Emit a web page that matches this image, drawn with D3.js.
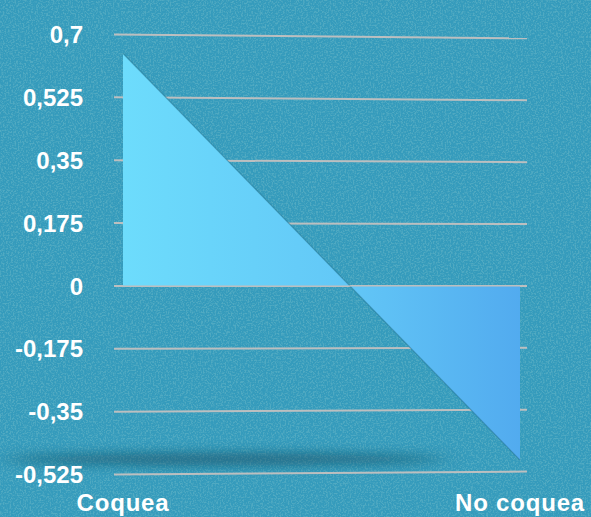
<!DOCTYPE html>
<html lang="en">
  <head>
    <meta charset="UTF-8" />
    <script src="https://d3js.org/d3.v7.min.js"></script>
    <title>Coquea</title>
    <style>
      body { margin: 0; background: #3394b3; }
      svg { display: block; }
      .tick-label, .cat-label {
        fill: #fff;
        font-family: "Liberation Sans", Arial, sans-serif;
        font-weight: bold;
      }
    </style>
  </head>
  <body>
    <svg id="chart" width="591" height="517"></svg>
    <script>
      // data
      const categories = ["Coquea", "No coquea"];
      const values = [0.647, -0.485];
      const tickValues = [0.7, 0.525, 0.35, 0.175, 0, -0.175, -0.35, -0.525];
      const tickLabels = ["0,7", "0,525", "0,35", "0,175", "0", "-0,175", "-0,35", "-0,525"];

      const W = 591, H = 517;
      const svg = d3.select("#chart");
      const defs = svg.append("defs");

      // grainy background
      const noise = defs.append("filter").attr("id", "noise")
        .attr("x", 0).attr("y", 0).attr("width", "100%").attr("height", "100%");
      noise.append("feTurbulence").attr("type", "fractalNoise")
        .attr("baseFrequency", 0.6).attr("numOctaves", 2).attr("seed", 4);
      noise.append("feColorMatrix").attr("type", "matrix")
        .attr("values", "0 0 0 0 0.08  0 0 0 0 0.4  0 0 0 0 0.54  4.5 0 0 0 -2.05");

      const blur = defs.append("filter").attr("id", "blur")
        .attr("x", "-30%").attr("y", "-300%").attr("width", "160%").attr("height", "700%");
      blur.append("feGaussianBlur").attr("stdDeviation", "14 6");

      const grad = defs.append("linearGradient").attr("id", "areaGrad")
        .attr("x1", "0%").attr("x2", "100%").attr("y1", "0%").attr("y2", "0%");
      grad.append("stop").attr("offset", "0%").attr("stop-color", "#6ddcfc");
      grad.append("stop").attr("offset", "55%").attr("stop-color", "#63c8f7");
      grad.append("stop").attr("offset", "100%").attr("stop-color", "#52abef");

      svg.append("rect").attr("width", W).attr("height", H).attr("fill", "#359bbc");
      svg.append("rect").attr("width", W).attr("height", H).attr("filter", "url(#noise)");

      const x = d3.scalePoint().domain(categories).range([123, 520]);
      const y = d3.scaleLinear().domain([-0.525, 0.7]).range([474.5, 34.5]);
      const gridLeft = 114, gridRight = 527, tilt = 5.5;

      // floor shadow
      svg.append("ellipse")
        .attr("cx", 225).attr("cy", y(-0.485) - 1)
        .attr("rx", 220).attr("ry", 6)
        .attr("fill", "#0b3c50").attr("opacity", 0.55)
        .attr("filter", "url(#blur)");

      // gridlines (slight perspective)
      svg.append("g").selectAll("line")
        .data(tickValues)
        .join("line")
        .attr("x1", gridLeft).attr("x2", gridRight)
        .attr("y1", d => y(d))
        .attr("y2", d => y(d) + tilt * d)
        .attr("stroke", "#bcbfc0")
        .attr("stroke-width", 2);

      // area
      const pts = categories.map((c, i) => ({ c, v: values[i] }));
      const area = d3.area()
        .x(d => x(d.c))
        .y0(y(0))
        .y1(d => y(d.v));
      svg.append("path")
        .datum(pts)
        .attr("d", area)
        .attr("fill", "url(#areaGrad)");

      const line = d3.line().x(d => x(d.c)).y(d => y(d.v));
      svg.append("path")
        .datum(pts)
        .attr("d", line)
        .attr("fill", "none")
        .attr("stroke", "#1f6f8c")
        .attr("stroke-opacity", 0.5)
        .attr("stroke-width", 1.2);

      // zero line on top
      svg.append("line")
        .attr("x1", gridLeft).attr("x2", gridRight)
        .attr("y1", y(0)).attr("y2", y(0))
        .attr("stroke", "#bcbfc0").attr("stroke-opacity", 0.7)
        .attr("stroke-width", 1.5);

      // tick labels
      svg.append("g").selectAll("text")
        .data(tickValues)
        .join("text")
        .attr("class", "tick-label")
        .attr("x", 83)
        .attr("y", d => y(d))
        .attr("dy", "0.36em")
        .attr("text-anchor", "end")
        .style("font-size", "24px")
        .text((d, i) => tickLabels[i]);

      // category labels
      svg.append("g").selectAll("text")
        .data(categories)
        .join("text")
        .attr("class", "cat-label")
        .attr("x", d => x(d))
        .attr("y", 511)
        .attr("text-anchor", "middle")
        .style("font-size", "24px")
        .style("letter-spacing", "0.8px")
        .text(d => d);
    </script>
  </body>
</html>
